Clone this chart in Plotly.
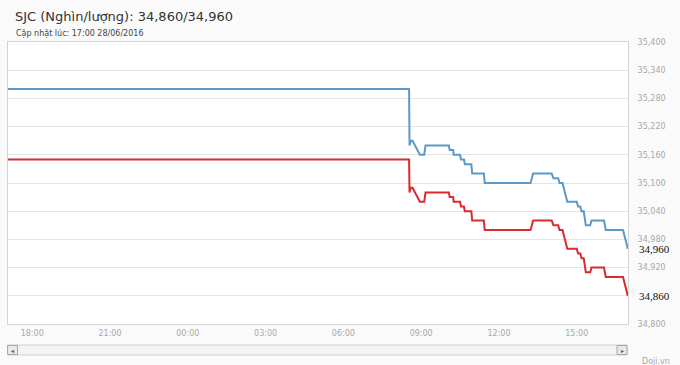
import plotly.graph_objects as go

# ---- data ----
times = [
    "2016-06-27 17:00", "2016-06-28 08:32", "2016-06-28 08:33", "2016-06-28 08:36",
    "2016-06-28 08:40", "2016-06-28 08:57", "2016-06-28 09:07", "2016-06-28 09:10",
    "2016-06-28 10:04", "2016-06-28 10:06", "2016-06-28 10:14", "2016-06-28 10:15",
    "2016-06-28 10:30", "2016-06-28 10:32", "2016-06-28 10:39", "2016-06-28 10:41",
    "2016-06-28 10:56", "2016-06-28 10:58", "2016-06-28 11:25", "2016-06-28 11:27",
    "2016-06-28 13:13", "2016-06-28 13:19", "2016-06-28 14:02", "2016-06-28 14:06",
    "2016-06-28 14:17", "2016-06-28 14:20", "2016-06-28 14:27", "2016-06-28 14:33",
    "2016-06-28 14:38", "2016-06-28 15:00", "2016-06-28 15:03", "2016-06-28 15:08",
    "2016-06-28 15:11", "2016-06-28 15:16", "2016-06-28 15:21", "2016-06-28 15:31",
    "2016-06-28 15:34", "2016-06-28 16:03", "2016-06-28 16:07", "2016-06-28 16:47",
    "2016-06-28 16:58",
]
sell = [
    35300, 35300, 35180, 35190,
    35190, 35160, 35160, 35180,
    35180, 35170, 35170, 35160,
    35160, 35150, 35150, 35140,
    35140, 35120, 35120, 35100,
    35100, 35120, 35120, 35110,
    35110, 35100, 35100, 35080,
    35060, 35060, 35050, 35050,
    35040, 35040, 35010, 35010,
    35020, 35020, 35000, 35000,
    34960,
]
buy = [
    35150, 35150, 35080, 35090,
    35090, 35060, 35060, 35080,
    35080, 35070, 35070, 35060,
    35060, 35050, 35050, 35040,
    35040, 35020, 35020, 35000,
    35000, 35020, 35020, 35010,
    35010, 35000, 35000, 34980,
    34960, 34960, 34950, 34950,
    34940, 34940, 34910, 34910,
    34920, 34920, 34900, 34900,
    34860,
]
y_ticks = [34800, 34860, 34920, 34980, 35040, 35100, 35160, 35220, 35280, 35340, 35400]
x_range = ["2016-06-27 17:04", "2016-06-28 16:58:30"]
title_text = "SJC (Nghìn/lượng): 34,860/34,960"
subtitle_text = "Cập nhật lúc: 17:00 28/06/2016"

BLUE = "#5b9ac6"
RED = "#da2a2d"

fig = go.Figure()
fig.add_trace(go.Scatter(x=times, y=sell, mode="lines",
                         line=dict(color=BLUE, width=2), showlegend=False))
fig.add_trace(go.Scatter(x=times, y=buy, mode="lines",
                         line=dict(color=RED, width=2), showlegend=False))

tickfont = dict(family="DejaVu Sans", size=8, color="#a8a8a8")
last_vals = {sell[-1], buy[-1]}
# tick labels that coincide with a last-value label are hidden beneath it
y_ticktext = ["" if v in last_vals else f"{v:,}" for v in y_ticks]

fig.update_layout(
    width=680, height=365,
    margin=dict(l=8, r=52, t=42, b=41),
    paper_bgcolor="#fafafa",
    plot_bgcolor="#ffffff",
    xaxis=dict(
        type="date", range=x_range,
        tick0="2016-06-27 18:00", dtick=3 * 3600 * 1000,
        tickformat="%H:%M", showgrid=False, zeroline=False,
        showline=True, linecolor="#d4d4d4", linewidth=1, mirror=True,
        ticks="", tickfont=tickfont, ticklabelstandoff=1,
    ),
    yaxis=dict(
        range=[34800, 35400], side="right",
        tickvals=y_ticks, ticktext=y_ticktext,
        showgrid=True, gridcolor="#e4e4e4", gridwidth=1, zeroline=False,
        showline=True, linecolor="#d4d4d4", linewidth=1, mirror=True,
        ticks="", tickfont=tickfont, ticklabelstandoff=7,
    ),
)

# last-value labels
for vals in (sell, buy):
    fig.add_annotation(x=1, xref="paper", y=vals[-1], yref="y",
                       text=f"{vals[-1]:,}", showarrow=False,
                       xanchor="left", yanchor="middle", xshift=9,
                       font=dict(family="Liberation Serif", size=11, color="#111111"))

# title and subtitle
fig.add_annotation(x=0.008, xref="paper", y=1.089, yref="paper",
                   text=title_text, showarrow=False, xanchor="left", yanchor="middle",
                   font=dict(family="DejaVu Sans", size=13, color="#333333"))
fig.add_annotation(x=0.009, xref="paper", y=1.030, yref="paper",
                   text=subtitle_text, showarrow=False, xanchor="left", yanchor="middle",
                   font=dict(family="DejaVu Sans", size=8, color="#444444"))

# scrollbar (decoration)
def px_x(x):
    return (x - 8) / 620.0

def px_y(y):
    return (323.0 - y) / 282.0

fig.add_shape(type="rect", xref="paper", yref="paper",
              x0=px_x(7.5), x1=px_x(627), y0=px_y(354), y1=px_y(344),
              line=dict(color="#cfcfcf", width=1), fillcolor="#f4f4f4", layer="above")
for xa, xb, sym in ((7.5, 17.5, "◂"), (617, 627, "▸")):
    fig.add_shape(type="rect", xref="paper", yref="paper",
                  x0=px_x(xa), x1=px_x(xb), y0=px_y(353.5), y1=px_y(344.5),
                  line=dict(color="#a8a8a8", width=1), fillcolor="#e8e8e8", layer="above")
    fig.add_annotation(x=px_x((xa + xb) / 2), xref="paper", y=px_y(349), yref="paper",
                       text=sym, showarrow=False, xanchor="center", yanchor="middle",
                       font=dict(family="DejaVu Sans", size=6, color="#555555"))

fig.add_annotation(x=px_x(672), xref="paper", y=px_y(360), yref="paper",
                   text="Doji.vn", showarrow=False, xanchor="right", yanchor="middle",
                   font=dict(family="DejaVu Sans", size=8, color="#a8a8a8"))

fig.write_html("out.html")
